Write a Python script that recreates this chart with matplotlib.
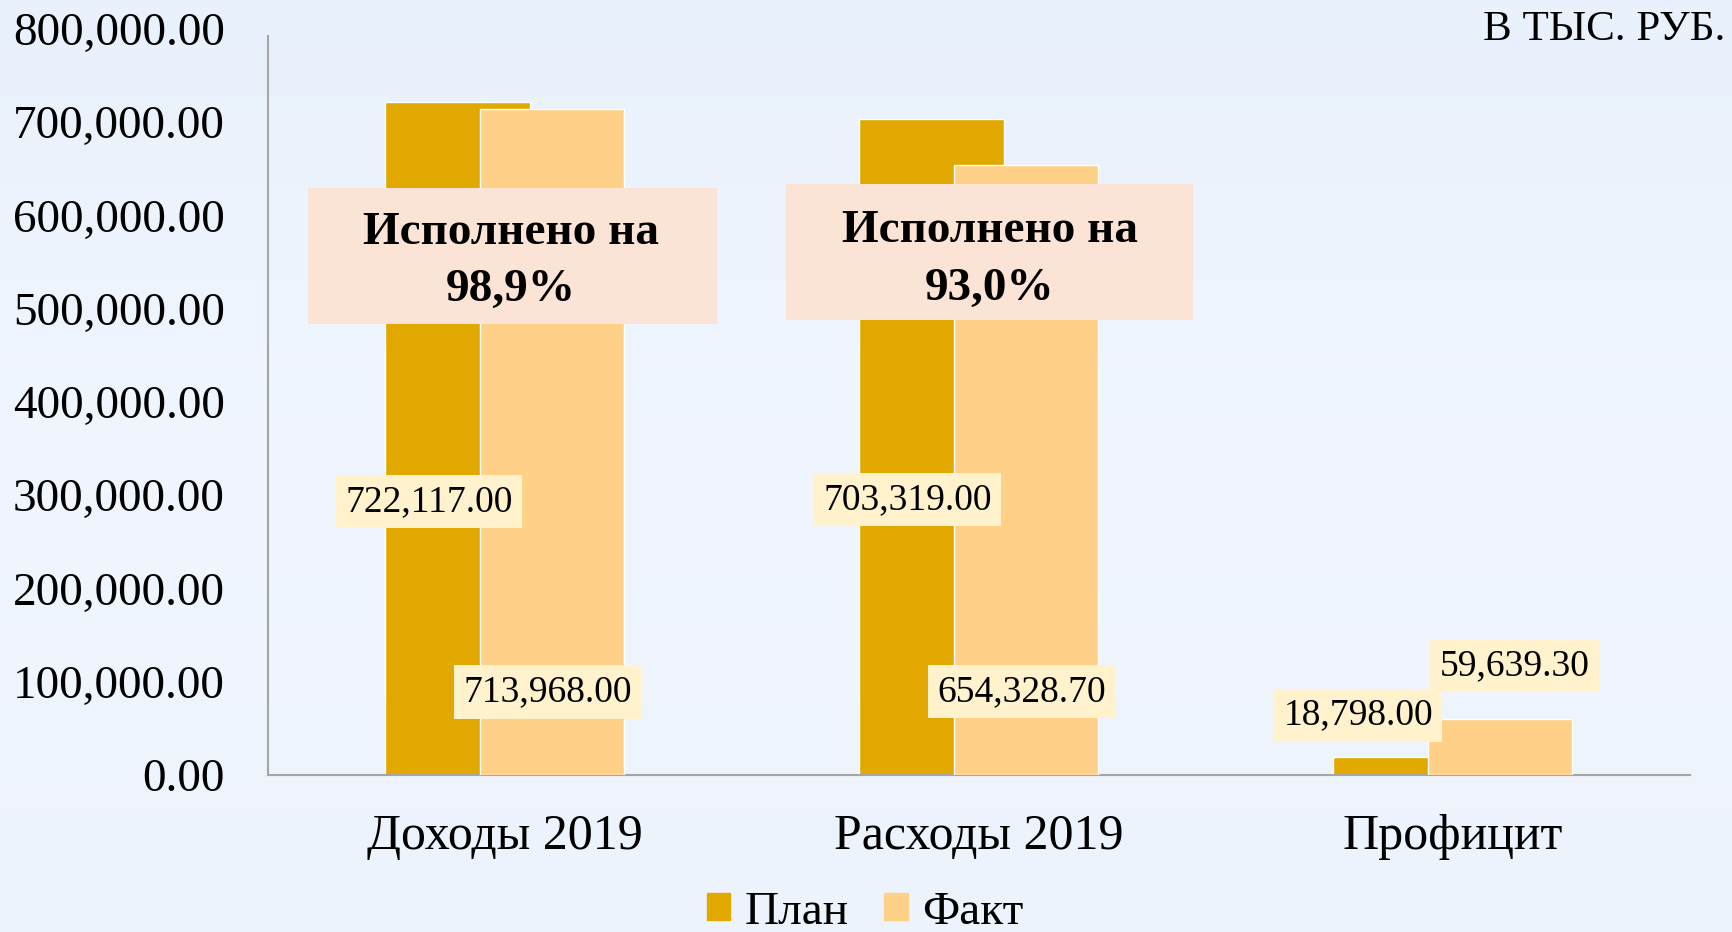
import numpy as np
import matplotlib.pyplot as plt
from matplotlib.patches import Patch, Rectangle

plt.rcParams['font.family'] = ['Liberation Serif', 'DejaVu Serif']

# данные
categories = ['Доходы 2019', 'Расходы 2019', 'Профицит']
plan = [722117.00, 703319.00, 18798.00]
fact = [713968.00, 654328.70, 59639.30]
done_text = ['Исполнено на\n98,9%', 'Исполнено на\n93,0%']
yticks = [0, 100000, 200000, 300000, 400000, 500000, 600000, 700000, 800000]

c_plan = '#E1A900'
c_fact = '#FFD087'
c_lab = '#FFF2CC'
c_box = '#FBE4D6'

fig = plt.figure(figsize=(17.32, 9.32), dpi=100)

# фон с лёгким градиентом
bg = fig.add_axes([0, 0, 1, 1], zorder=-10)
grad = np.linspace(0, 1, 256).reshape(-1, 1)
bg.imshow(grad, aspect='auto', cmap=plt.matplotlib.colors.LinearSegmentedColormap.from_list(
    'bg', ['#E9F1FC', '#F1F6FE', '#EDF3FC']), extent=[0, 1, 0, 1])
bg.axis('off')

ax = fig.add_axes([0.1547, 0.1685, 0.8210, 0.8005])
ax.patch.set_alpha(0)
x = np.arange(len(categories))
w = 0.304
ax.bar(x - 0.1, plan, w, color=c_plan, edgecolor='white', linewidth=1, zorder=2)
ax.bar(x + 0.1, fact, w, color=c_fact, edgecolor='white', linewidth=1, zorder=3)

ax.set_xlim(-0.5, 2.5)
ax.set_ylim(0, 800000)
ax.set_yticks(yticks)
ax.set_yticklabels(['{:,.2f}'.format(v) for v in yticks], fontsize=34)
ax.set_xticks(x)
ax.set_xticklabels(categories, fontsize=36)
ax.tick_params(axis='y', length=0, pad=31)
ax.tick_params(axis='x', length=0, pad=28)
for s in ['top', 'right']:
    ax.spines[s].set_visible(False)
ax.spines['left'].set_color('#A6A6A6')
ax.spines['bottom'].set_color('#A6A6A6')
ax.spines['left'].set_linewidth(1.5)
ax.spines['bottom'].set_linewidth(1.5)
ax.spines['left'].set_bounds(0, 792000)

# подписи значений
plan_lab_pos = [(-0.16, 293000), (0.85, 295000), (1.80, 64000)]
fact_lab_pos = [(0.09, 89000), (1.09, 89500), (2.13, 117000)]
for v, (px, py) in zip(plan, plan_lab_pos):
    ax.text(px, py, '{:,.2f}'.format(v), fontsize=27, ha='center', va='center', zorder=5,
            bbox=dict(boxstyle='square,pad=0.25', fc=c_lab, ec='none'))
for v, (px, py) in zip(fact, fact_lab_pos):
    ax.text(px, py, '{:,.2f}'.format(v), fontsize=27, ha='center', va='center', zorder=5,
            bbox=dict(boxstyle='square,pad=0.25', fc=c_lab, ec='none'))

# плашки исполнения
box_rect = [(-0.416, 483600, 0.863, 146000), (0.593, 487900, 0.858, 146000)]
box_txt = [(0.013, 550500), (1.023, 552000)]
for t, r, (px, py) in zip(done_text, box_rect, box_txt):
    ax.add_patch(Rectangle((r[0], r[1]), r[2], r[3], fc=c_box, ec='none', zorder=6))
    ax.text(px, py, t, fontsize=34, fontweight='bold', ha='center', va='center',
            linespacing=1.48, zorder=7)

fig.text(0.996, 0.968, 'В ТЫС. РУБ.', fontsize=31, ha='right', va='center')

handles = [Patch(color=c_plan), Patch(color=c_fact)]
fig.legend(handles, ['План', 'Факт'], loc='center', bbox_to_anchor=(0.4994, 0.021),
           ncol=2, frameon=False, fontsize=34, handlelength=0.5, handleheight=0.5,
           handletextpad=0.3, columnspacing=0.75)

fig.savefig('out.png', dpi=100)
